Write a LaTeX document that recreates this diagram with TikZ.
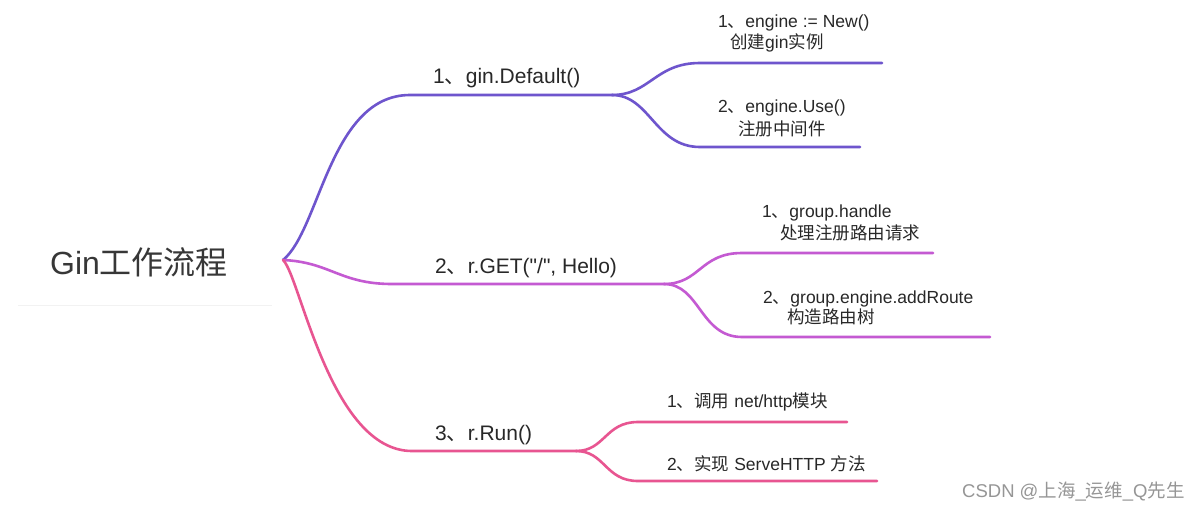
\documentclass[tikz,border=0pt]{standalone}
\usepackage{fontspec}
\setmainfont{Liberation Sans}
\newfontfamily\cjk{Noto Sans CJK SC}
\newfontfamily\plainq{Liberation Sans}
\begin{document}
\begin{tikzpicture}[x=1pt,y=-1pt,
  br/.style={line width=2.6pt,line cap=round},
  b1/.style={br,draw={rgb,255:red,110;green,85;blue,205}},
  b2/.style={br,draw={rgb,255:red,196;green,90;blue,210}},
  b3/.style={br,draw={rgb,255:red,232;green,85;blue,145}},
  lab/.style={anchor=base west,inner sep=0pt,text={rgb,255:red,40;green,40;blue,40},font=\fontsize{21}{24}\selectfont},
  sub/.style={anchor=base west,inner sep=0pt,text={rgb,255:red,40;green,40;blue,40},font=\fontsize{17.5}{20}\selectfont}]
\useasboundingbox[fill=white] (0,0) rectangle (1204,509);
% root
\node[anchor=base west,inner sep=0pt,text={rgb,255:red,55;green,55;blue,55},font=\fontsize{32}{36}\selectfont] (root) at (50,274) {Gin{\cjk 工作流程}};
\coordinate (r) at (283,260);
\coordinate (ul1) at (18,305);
\coordinate (ul2) at (272,305);
\draw[line width=0.8pt,draw={rgb,255:red,242;green,242;blue,242}] (ul1) -- (ul2);
% branch coordinates
\coordinate (a0) at (410,95);  \coordinate (a) at (612,95);
\coordinate (b0) at (392,284); \coordinate (b) at (664,284);
\coordinate (c0) at (412,451); \coordinate (c) at (576,451);
\coordinate (a1s) at (700,63);  \coordinate (a1e) at (882,63);
\coordinate (a2s) at (700,147); \coordinate (a2e) at (860,147);
\coordinate (b1s) at (742,253); \coordinate (b1e) at (933,253);
\coordinate (b2s) at (742,337); \coordinate (b2e) at (990,337);
\coordinate (c1s) at (638,422); \coordinate (c1e) at (847,422);
\coordinate (c2s) at (638,481); \coordinate (c2e) at (877,481);
% main branches
\draw[b1] (r) .. controls (320,230) and (330,95) .. (a0) -- (a);
\draw[b2] (r) .. controls (330,262) and (340,284) .. (b0) -- (b);
\draw[b3] (r) .. controls (300,275) and (330,451) .. (c0) -- (c);
% sub branches
\draw[b1] (a) .. controls (650,95) and (655,63) .. (a1s) -- (a1e);
\draw[b1] (a) .. controls (650,95) and (655,147) .. (a2s) -- (a2e);
\draw[b2] (b) .. controls (700,284) and (700,253) .. (b1s) -- (b1e);
\draw[b2] (b) .. controls (700,284) and (700,337) .. (b2s) -- (b2e);
\draw[b3] (c) .. controls (605,451) and (605,422) .. (c1s) -- (c1e);
\draw[b3] (c) .. controls (605,451) and (605,481) .. (c2s) -- (c2e);
% labels
\node[lab] (la) at (433,83) {1{\cjk 、}gin.Default()};
\node[lab] (lb) at (435,273) {2{\cjk 、}r.GET({\plainq "/"}, Hello)};
\node[lab] (lc) at (435,440) {3{\cjk 、}r.Run()};
\node[sub] (la1) at (718,27) {1{\cjk 、}engine := New()};
\node[sub] (la1b) at (730,48) {{\cjk 创建}gin{\cjk 实例}};
\node[sub] (la2) at (718,112) {2{\cjk 、}engine.Use()};
\node[sub] (la2b) at (738,135) {\cjk 注册中间件};
\node[sub] (lb1) at (762,217) {1{\cjk 、}group.handle};
\node[sub] (lb1b) at (780,239) {\cjk 处理注册路由请求};
\node[sub] (lb2) at (763,303) {2{\cjk 、}group.engine.addRoute};
\node[sub] (lb2b) at (787,323) {\cjk 构造路由树};
\node[sub] (lc1) at (667,407) {1{\cjk 、调用} net/http{\cjk 模块}};
\node[sub] (lc2) at (667,470) {2{\cjk 、实现} ServeHTTP {\cjk 方法}};
% watermark
\node[anchor=base west,inner sep=0pt,text={rgb,255:red,150;green,150;blue,150},font=\fontsize{18.5}{20}\selectfont] (wm) at (962,497) {CSDN @{\cjk 上海}\_{\cjk 运维}\_Q{\cjk 先生}};
\end{tikzpicture}
\end{document}
